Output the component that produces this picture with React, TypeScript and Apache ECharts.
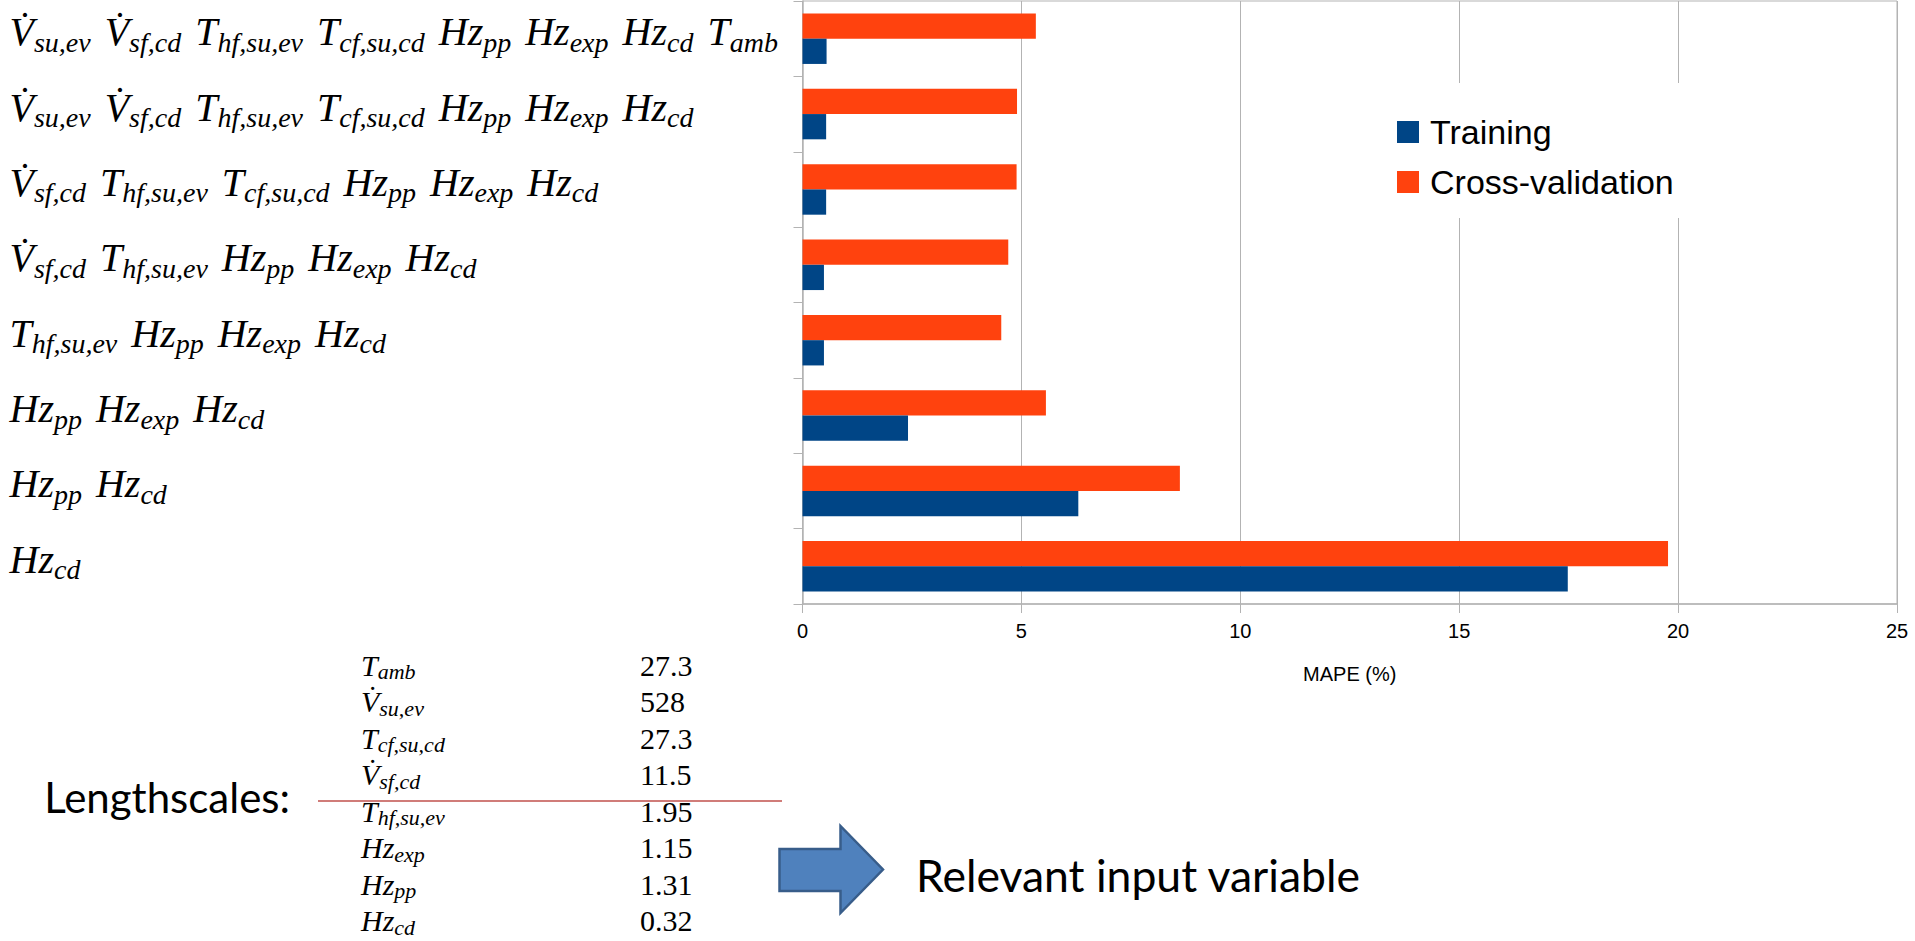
import React, { useEffect, useRef } from "react";
import * as echarts from "echarts";

// Input-variable sets, bottom to top along the category axis.
// "_" separates a symbol from its subscript, spaces separate symbols.
const categories = [
  "Hz_cd",
  "Hz_pp Hz_cd",
  "Hz_pp Hz_exp Hz_cd",
  "T_hf,su,ev Hz_pp Hz_exp Hz_cd",
  "V\u0307_sf,cd T_hf,su,ev Hz_pp Hz_exp Hz_cd",
  "V\u0307_sf,cd T_hf,su,ev T_cf,su,cd Hz_pp Hz_exp Hz_cd",
  "V\u0307_su,ev V\u0307_sf,cd T_hf,su,ev T_cf,su,cd Hz_pp Hz_exp Hz_cd",
  "V\u0307_su,ev V\u0307_sf,cd T_hf,su,ev T_cf,su,cd Hz_pp Hz_exp Hz_cd T_amb",
];

// MAPE (%) per variable set
const training = [17.48, 6.3, 2.41, 0.49, 0.49, 0.54, 0.54, 0.55];
const crossValidation = [19.77, 8.62, 5.56, 4.54, 4.7, 4.89, 4.9, 5.33];

const xMin = 0;
const xMax = 25;
const xInterval = 5;

// Lengthscales of the fitted kernel
const lengthscaleNames = [
  "T_amb",
  "V\u0307_su,ev",
  "T_cf,su,cd",
  "V\u0307_sf,cd",
  "T_hf,su,ev",
  "Hz_exp",
  "Hz_pp",
  "Hz_cd",
];
const lengthscaleValues = ["27.3", "528", "27.3", "11.5", "1.95", "1.15", "1.31", "0.32"];

const BLUE = "#004586";
const ORANGE = "#ff420e";
const GRID = "#b3b3b3";

// Builds rich text with italic symbols, lowered subscripts and a fixed gap.
function toRich(label: string, m: string, s: string, g: string): string {
  return label
    .split(" ")
    .map((term) => {
      const [base, sub] = term.split("_");
      return `{${m}|${base}}` + (sub ? `{${s}|${sub}}` : "");
    })
    .join(`{${g}| }`);
}

export default function App() {
  const ref = useRef<HTMLDivElement>(null);

  useEffect(() => {
    document.body.style.margin = "0";
    const chart = echarts.init(ref.current!, undefined, { renderer: "svg" });

    const tableTop = 665;
    const tableStep = 36.5;

    const tableNames = lengthscaleNames.map((name, i) => ({
      type: "text",
      x: 361,
      y: tableTop + i * tableStep,
      style: {
        text: toRich(name, "tm", "ts", "tg"),
        verticalAlign: "middle",
        rich: {
          tm: {
            fontFamily: "Liberation Serif",
            fontStyle: "italic",
            fontSize: 30,
            lineHeight: 30,
            fill: "#000",
          },
          ts: {
            fontFamily: "Liberation Serif",
            fontStyle: "italic",
            fontSize: 22,
            lineHeight: 14,
            padding: [13, 0, 0, 0],
            fill: "#000",
          },
          tg: { fontSize: 30, lineHeight: 30, width: 8 },
        },
      },
    }));

    const tableValues = lengthscaleValues.map((v, i) => ({
      type: "text",
      x: 640,
      y: tableTop + i * tableStep,
      style: {
        text: v,
        fontFamily: "Liberation Serif",
        fontSize: 30,
        verticalAlign: "middle",
        fill: "#000",
      },
    }));

    chart.setOption({
      animation: false,
      backgroundColor: "#fff",
      grid: {
        left: 802.5,
        right: 18,
        top: 1,
        bottom: 337,
        show: true,
        borderColor: GRID,
        borderWidth: 1,
        containLabel: false,
      },
      legend: {
        orient: "vertical",
        left: 1372,
        top: 83,
        padding: [32, 30, 19, 25],
        backgroundColor: "#fff",
        itemWidth: 22,
        itemHeight: 22,
        itemGap: 16,
        icon: "rect",
        data: ["Training", "Cross-validation"],
        textStyle: {
          fontFamily: "Liberation Sans",
          fontSize: 34,
          lineHeight: 33,
          color: "#000",
          padding: [0, 0, 0, 6],
        },
      },
      xAxis: {
        type: "value",
        min: xMin,
        max: xMax,
        interval: xInterval,
        name: "MAPE (%)",
        nameLocation: "middle",
        nameGap: 60,
        nameTextStyle: {
          fontFamily: "Liberation Sans",
          fontSize: 20,
          color: "#000",
        },
        axisLine: { show: true, lineStyle: { color: GRID, width: 1.5 } },
        axisTick: { show: true, length: 9, lineStyle: { color: GRID } },
        splitLine: { show: true, lineStyle: { color: GRID, width: 1 } },
        axisLabel: {
          fontFamily: "Liberation Sans",
          fontSize: 20,
          color: "#000",
          margin: 17,
        },
      },
      yAxis: {
        type: "category",
        data: categories,
        axisLine: { show: true, lineStyle: { color: GRID, width: 1.5 } },
        axisTick: { show: true, length: 9, lineStyle: { color: GRID } },
        splitLine: { show: false },
        axisLabel: {
          align: "left",
          margin: 793,
          padding: [0, 0, 14, 0],
          formatter: (v: string) => toRich(v, "m", "s", "g"),
          rich: {
            m: {
              fontFamily: "Liberation Serif",
              fontStyle: "italic",
              fontSize: 40,
              lineHeight: 40,
              color: "#000",
            },
            s: {
              fontFamily: "Liberation Serif",
              fontStyle: "italic",
              fontSize: 28,
              lineHeight: 19,
              padding: [21, 0, 0, 0],
              color: "#000",
            },
            g: { fontSize: 40, lineHeight: 40, width: 14 },
          },
        },
      },
      // Within each group the later series sits nearer the axis origin,
      // so cross-validation is listed first to lie above training.
      series: [
        {
          name: "Cross-validation",
          type: "bar",
          data: crossValidation,
          itemStyle: { color: ORANGE },
          barGap: "0%",
          barCategoryGap: "33%",
        },
        {
          name: "Training",
          type: "bar",
          data: training,
          itemStyle: { color: BLUE },
          barGap: "0%",
          barCategoryGap: "33%",
        },
      ],
      graphic: [
        {
          type: "text",
          x: 290,
          y: 797,
          style: {
            text: "Lengthscales:",
            fontFamily: "Lato",
            fontSize: 42,
            align: "right",
            verticalAlign: "middle",
            fill: "#000",
          },
        },
        {
          type: "line",
          shape: { x1: 318, y1: 801, x2: 782, y2: 801 },
          style: { stroke: "#c0504d", lineWidth: 1.5 },
        },
        ...tableNames,
        ...tableValues,
        {
          type: "polygon",
          shape: {
            points: [
              [779.5, 849],
              [840.5, 849],
              [840.5, 826],
              [883, 869.5],
              [840.5, 913],
              [840.5, 891],
              [779.5, 891],
            ],
          },
          style: { fill: "#4f81bd", stroke: "#385d8a", lineWidth: 2.5 },
        },
        {
          type: "text",
          x: 916,
          y: 874,
          style: {
            text: "Relevant input variable",
            fontFamily: "Lato",
            fontSize: 44.5,
            verticalAlign: "middle",
            fill: "#000",
          },
        },
      ],
    });

    return () => chart.dispose();
  }, []);

  return <div ref={ref} style={{ width: 1915, height: 941 }} />;
}
